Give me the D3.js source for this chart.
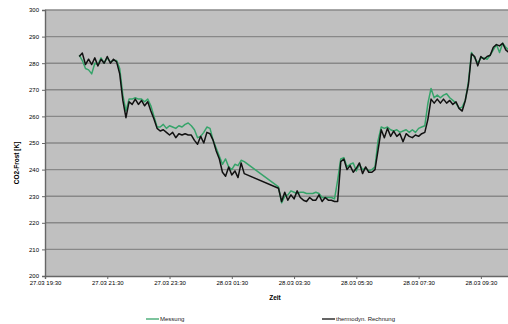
<!DOCTYPE html>
<html>
<head>
<meta charset="utf-8">
<script src="https://cdn.jsdelivr.net/npm/d3@7"></script>
<style>
  body { margin: 0; background: #fff; }
  svg { display: block; font-family: "Liberation Sans", Arial, sans-serif; }
</style>
</head>
<body>
<div id="chart"></div>
<script>
// Messzeitpunkte (27./28.03), Lücke 01:54 - 03:00
const times = [
  "27.03 20:36","27.03 20:42","27.03 20:48","27.03 20:54","27.03 21:00","27.03 21:06","27.03 21:12","27.03 21:18",
  "27.03 21:24","27.03 21:30","27.03 21:36","27.03 21:42","27.03 21:48","27.03 21:54","27.03 22:00","27.03 22:06",
  "27.03 22:12","27.03 22:18","27.03 22:24","27.03 22:30","27.03 22:36","27.03 22:42","27.03 22:48","27.03 22:54",
  "27.03 23:00","27.03 23:06","27.03 23:12","27.03 23:18","27.03 23:24","27.03 23:30","27.03 23:36","27.03 23:42",
  "27.03 23:48","27.03 23:54","28.03 00:00","28.03 00:06","28.03 00:12","28.03 00:18","28.03 00:24","28.03 00:30",
  "28.03 00:36","28.03 00:42","28.03 00:48","28.03 00:54","28.03 01:00","28.03 01:06","28.03 01:12","28.03 01:18",
  "28.03 01:24","28.03 01:30","28.03 01:36","28.03 01:42","28.03 01:48","28.03 01:54",
  "28.03 03:00","28.03 03:06","28.03 03:12","28.03 03:18","28.03 03:24","28.03 03:30","28.03 03:36","28.03 03:42",
  "28.03 03:48","28.03 03:54","28.03 04:00","28.03 04:06","28.03 04:12","28.03 04:18","28.03 04:24","28.03 04:30",
  "28.03 04:36","28.03 04:42","28.03 04:48","28.03 04:54","28.03 05:00","28.03 05:06","28.03 05:12","28.03 05:18",
  "28.03 05:24","28.03 05:30","28.03 05:36","28.03 05:42","28.03 05:48","28.03 05:54","28.03 06:00","28.03 06:06",
  "28.03 06:12","28.03 06:18","28.03 06:24","28.03 06:30","28.03 06:36","28.03 06:42","28.03 06:48","28.03 06:54",
  "28.03 07:00","28.03 07:06","28.03 07:12","28.03 07:18","28.03 07:24","28.03 07:30","28.03 07:36","28.03 07:42",
  "28.03 07:48","28.03 07:54","28.03 08:00","28.03 08:06","28.03 08:12","28.03 08:18","28.03 08:24","28.03 08:30",
  "28.03 08:36","28.03 08:42","28.03 08:48","28.03 08:54","28.03 09:00","28.03 09:06","28.03 09:12","28.03 09:18",
  "28.03 09:24","28.03 09:30","28.03 09:36","28.03 09:42","28.03 09:48","28.03 09:54","28.03 10:00","28.03 10:06",
  "28.03 10:12","28.03 10:18","28.03 10:24"
];

const messung = [
  283, 281, 278, 277.5, 276, 280, 279.5, 282, 280, 282, 280.5, 281, 281, 278, 268, 262,
  266.5, 266.5, 267, 266.5, 266.5, 265.5, 266.5, 264, 260, 256, 256, 257, 255.5, 256.5, 256, 255.5,
  256.5, 256, 257, 257.5, 256.5, 255, 252, 252.5, 254, 256, 255.5, 251, 248, 245, 242, 244,
  241, 240, 242, 241.5, 243.5, 243,
  233.5, 227.5, 230, 230.5, 232, 231.5, 231, 231.5, 231.5, 231, 231, 231, 231.5, 231, 229.5, 229.5,
  229.5, 229.5, 229, 236, 244, 244.5, 241, 242, 242.5, 239.5, 242, 240, 240.5, 239.5, 240, 241,
  251, 256, 255.5, 256, 255, 254.5, 255, 254, 254.5, 255, 254, 255, 254, 255.5, 256, 256.5,
  265, 270.5, 267, 268, 267, 268, 268.5, 267, 266, 265, 263, 263.5, 266, 273, 284, 282,
  280, 282, 282, 281.5, 283, 285, 287, 284, 287.5, 286, 285
];

const rechnung = [
  282.5, 283.8, 279.5, 281.5, 279.5, 282, 279, 281.5, 280, 282.5, 280, 281.5, 280.5, 276, 266, 259.5,
  265.5, 264.5, 266.5, 264.5, 266, 264, 265.5, 262, 259, 255.5, 254.5, 255, 254, 253, 254, 252,
  253.5, 253, 253.5, 253, 253, 251, 249.5, 252.5, 250, 254, 253.5, 251, 247, 244, 239, 237.5,
  241, 238, 239.5, 237, 242.5, 238.5,
  233, 228, 231.5, 228.5, 230.5, 229, 232, 229.5, 228.5, 228, 229.5, 228.5, 228.5, 230.5, 228, 229.5,
  228.5, 228.5, 228, 228, 243, 244, 240, 241.5, 239, 240.5, 242.5, 238.5, 241, 239, 239, 240,
  247.5, 255, 252, 255.5, 252.5, 254.5, 252.5, 253.5, 250.5, 253.5, 252.5, 252, 253, 252.5, 253.5, 254,
  259, 266.5, 265, 266.5, 265, 266.5, 265, 266, 264.5, 265.5, 263, 262, 266, 272, 283.5, 282.5,
  279, 282.5, 281.5, 282.5, 283, 286, 287, 286.5, 287.5, 285, 284
];

const yTicks = [200, 210, 220, 230, 240, 250, 260, 270, 280, 290, 300];
const xTicks = ["27.03 19:30", "27.03 21:30", "27.03 23:30", "28.03 01:30",
                "28.03 03:30", "28.03 05:30", "28.03 07:30", "28.03 09:30"];
const xDomain = ["27.03 19:30", "28.03 10:30"];

const seriesNames = ["Messung", "thermodyn. Rechnung"];

const W = 508, H = 324;
const M = { top: 10, right: -4, bottom: 48, left: 45 };
const innerW = W - M.left - M.right;
const innerH = H - M.top - M.bottom;

const parse = d3.timeParse("%d.%m %H:%M");
const fmt = d3.timeFormat("%d.%m %H:%M");

const x = d3.scaleTime().domain(xDomain.map(parse)).range([0, innerW]);
const y = d3.scaleLinear().domain([200, 300]).range([innerH, 0]);

const svg = d3.select("#chart").append("svg")
  .attr("width", W).attr("height", H);

const g = svg.append("g").attr("transform", `translate(${M.left},${M.top})`);

// Plotfläche
g.append("rect")
  .attr("width", innerW).attr("height", innerH)
  .attr("fill", "#c0c0c0");

// Gitterlinien
g.append("g").selectAll("line")
  .data(yTicks.filter(v => v > 200))
  .join("line")
  .attr("x1", 0).attr("x2", innerW)
  .attr("y1", d => y(d)).attr("y2", d => y(d))
  .attr("stroke", "#888").attr("stroke-width", 1.4);

// Achsen
const yAxis = g.append("g")
  .call(d3.axisLeft(y).tickValues(yTicks).tickSize(3).tickFormat(d3.format("d")));
const xAxis = g.append("g")
  .attr("transform", `translate(0,${innerH})`)
  .call(d3.axisBottom(x).tickValues(xTicks.map(parse)).tickSize(3).tickFormat(fmt));

[yAxis, xAxis].forEach(a => {
  a.select(".domain").attr("stroke", "#666").attr("stroke-width", 1.4);
  a.selectAll(".tick line").attr("stroke", "#666");
  a.selectAll("text")
    .attr("font-family", "Liberation Sans, Arial, sans-serif")
    .attr("font-size", 6).attr("fill", "#000");
});
yAxis.selectAll("text").attr("x", -6);
xAxis.selectAll("text").attr("y", 5);

// Linien
const pts = vals => times.map((t, i) => [parse(t), vals[i]]);
const line = d3.line().x(d => x(d[0])).y(d => y(d[1]));

g.append("path").datum(pts(messung))
  .attr("fill", "none").attr("stroke", "#36a46a").attr("stroke-width", 1.5)
  .attr("stroke-linejoin", "round").attr("d", line);
g.append("path").datum(pts(rechnung))
  .attr("fill", "none").attr("stroke", "#111").attr("stroke-width", 1.5)
  .attr("stroke-linejoin", "round").attr("d", line);

// Achsentitel
svg.append("text")
  .attr("x", 275).attr("y", 300)
  .attr("text-anchor", "middle")
  .attr("font-size", 6.5).attr("font-weight", "bold").attr("fill", "#000")
  .text("Zeit");

svg.append("text")
  .attr("transform", `translate(19,${M.top + innerH / 2 + 20}) rotate(-90)`)
  .attr("text-anchor", "middle")
  .attr("font-size", 6.5).attr("font-weight", "bold").attr("fill", "#000")
  .text("CO2-Frost [K]");

// Legende
const legend = svg.append("g").attr("transform", "translate(0,319)");
const legendItems = [
  { name: seriesNames[0], color: "#36a46a", x0: 146 },
  { name: seriesNames[1], color: "#111", x0: 322 }
];
legendItems.forEach(d => {
  legend.append("line")
    .attr("x1", d.x0).attr("x2", d.x0 + 13)
    .attr("stroke", d.color).attr("stroke-width", 1.3);
  legend.append("text")
    .attr("x", d.x0 + 14).attr("y", 2)
    .attr("font-size", 6).attr("fill", "#222")
    .text(d.name);
});
</script>
</body>
</html>
